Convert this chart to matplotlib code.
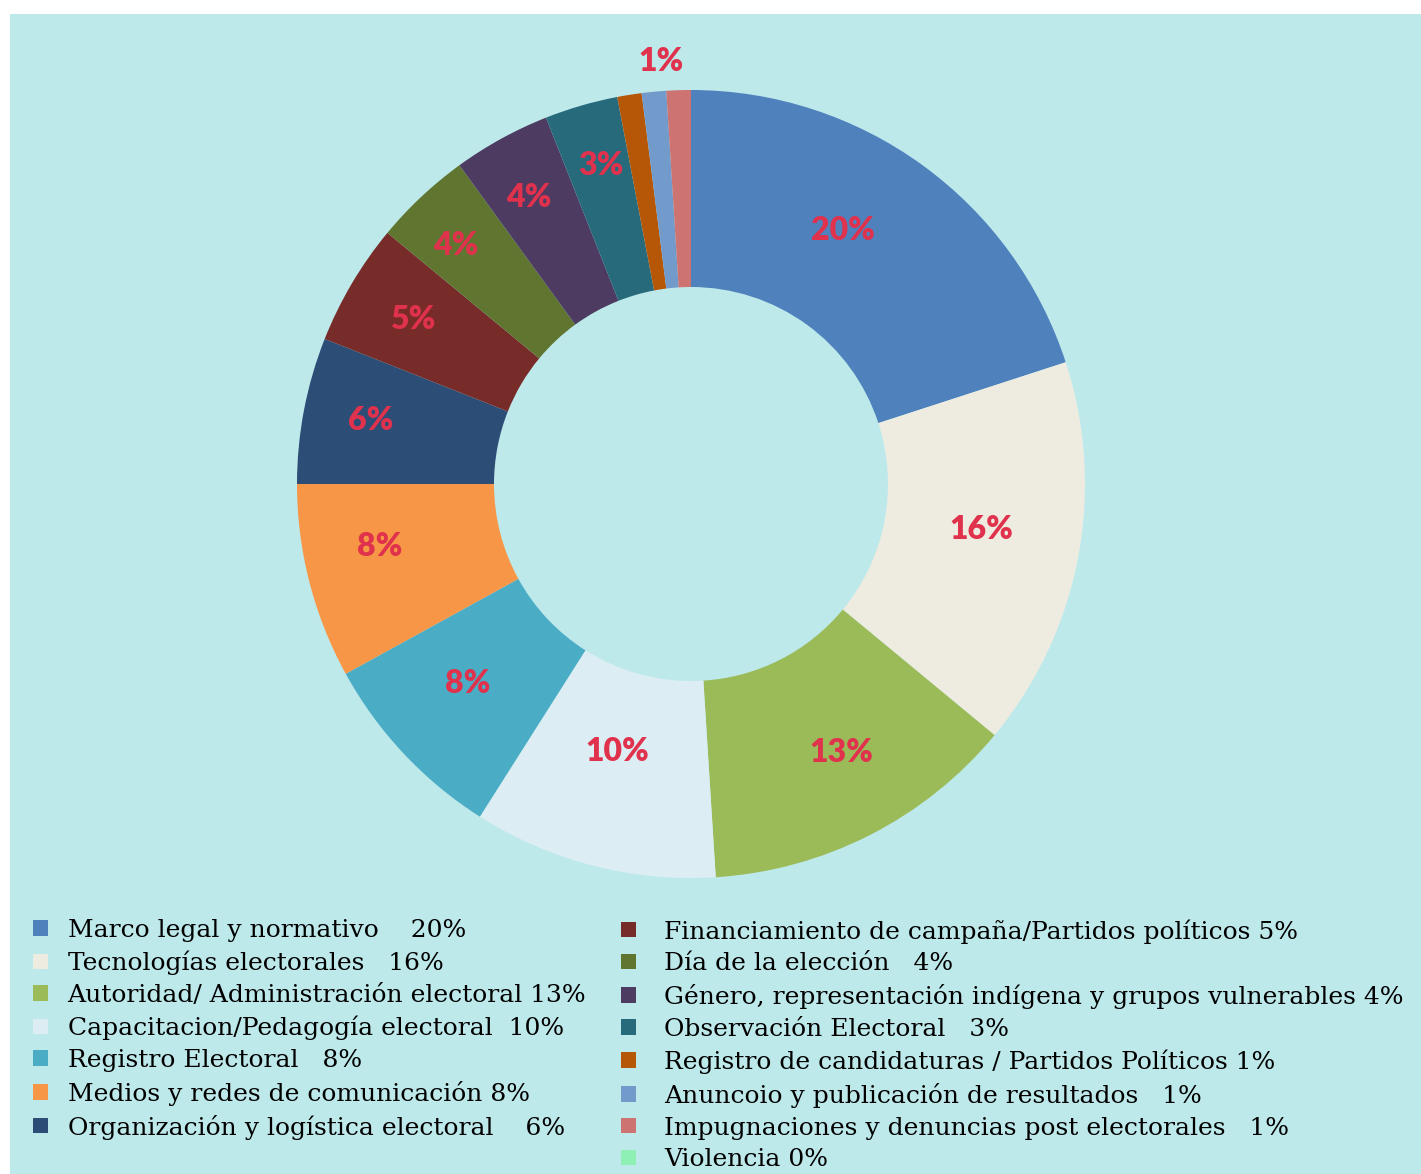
import numpy as np
import matplotlib.pyplot as plt
from matplotlib.patches import Rectangle

# data
categories = [
    "Marco legal y normativo", "Tecnologías electorales",
    "Autoridad/ Administración electoral", "Capacitacion/Pedagogía electoral",
    "Registro Electoral", "Medios y redes de comunicación",
    "Organización y logística electoral",
    "Financiamiento de campaña/Partidos políticos", "Día de la elección",
    "Género, representación indígena y grupos vulnerables",
    "Observación Electoral", "Registro de candidaturas / Partidos Políticos",
    "Anuncoio y publicación de resultados",
    "Impugnaciones y denuncias post electorales", "Violencia",
]
values = [20, 16, 13, 10, 8, 8, 6, 5, 4, 4, 3, 1, 1, 1, 0]
legend_labels = [
    "Marco legal y normativo    20%",
    "Tecnologías electorales   16%",
    "Autoridad/ Administración electoral 13%",
    "Capacitacion/Pedagogía electoral  10%",
    "Registro Electoral   8%",
    "Medios y redes de comunicación 8%",
    "Organización y logística electoral    6%",
    "Financiamiento de campaña/Partidos políticos 5%",
    "Día de la elección   4%",
    "Género, representación indígena y grupos vulnerables 4%",
    "Observación Electoral   3%",
    "Registro de candidaturas / Partidos Políticos 1%",
    "Anuncoio y publicación de resultados   1%",
    "Impugnaciones y denuncias post electorales   1%",
    "Violencia 0%",
]
colors = ["#4F81BD", "#EEECE1", "#9BBB59", "#DCEEF3", "#4BACC6", "#F79646",
          "#2C4D75", "#772C2A", "#5F7530", "#4D3B62", "#276A7C", "#B65708",
          "#729ACA", "#CD7371", "#8EF0B2"]
# placement of in-ring labels: radius (fraction of R) and angle nudge (deg)
label_r = [0.75, 0.745, 0.78, 0.705, 0.76, 0.805, 0.83, 0.82, 0.85, 0.835, 0.84]
label_dt = [5, 1.8, 2.2, -1, -1.4, -3.1, -0.4, 0, 1.3, 0.7, -0.4]

W, H = 1421, 1174
bg = "#BEE9EB"
red = "#E0314D"

fig = plt.figure(figsize=(W / 100, H / 100), dpi=100)
fig.patch.set_facecolor("white")
fig.patches.append(Rectangle((10 / W, 0), 1 - 10 / W, 1 - 14 / H,
                             transform=fig.transFigure, facecolor=bg,
                             edgecolor="none", zorder=-1))

cx, cy, R = 691, 484, 394
ax = fig.add_axes([(cx - R) / W, (H - cy - R) / H, 2 * R / W, 2 * R / H])
ax.set_facecolor("none")
wedges, _ = ax.pie(values, colors=colors, startangle=90, counterclock=False,
                   radius=1, wedgeprops=dict(width=0.5, linewidth=0))
ax.set_xlim(-1, 1)
ax.set_ylim(-1, 1)
ax.axis("off")

lab = dict(ha="center", va="center", color=red, fontsize=23,
           fontweight="heavy", family="Lato")
for w, v, r, dt in zip(wedges, values, label_r, label_dt):
    mid = np.deg2rad((w.theta1 + w.theta2) / 2 + dt)
    ax.text(r * np.cos(mid), r * np.sin(mid), f"{v}%", **lab)
# single label above the three 1% slices
a = np.deg2rad(wedges[13].theta2 + 0.5)
ax.text(1.074 * np.cos(a), 1.074 * np.sin(a), f"{values[13]}%", **lab)

lfont = dict(family="DejaVu Serif", size=18)
common = dict(frameon=False, prop=lfont, handlelength=0.58, handleheight=0.58,
              labelspacing=0.35, borderpad=0, borderaxespad=0,
              bbox_transform=fig.transFigure)
fig.legend(wedges[:7], legend_labels[:7], loc="upper left",
           bbox_to_anchor=(33 / W, 1 - 919 / H), handletextpad=0.8, **common)
fig.legend(wedges[7:], legend_labels[7:], loc="upper left",
           bbox_to_anchor=(621 / W, 1 - 919 / H), handletextpad=1.15, **common)

fig.savefig("out.png", dpi=100, facecolor=fig.get_facecolor())
